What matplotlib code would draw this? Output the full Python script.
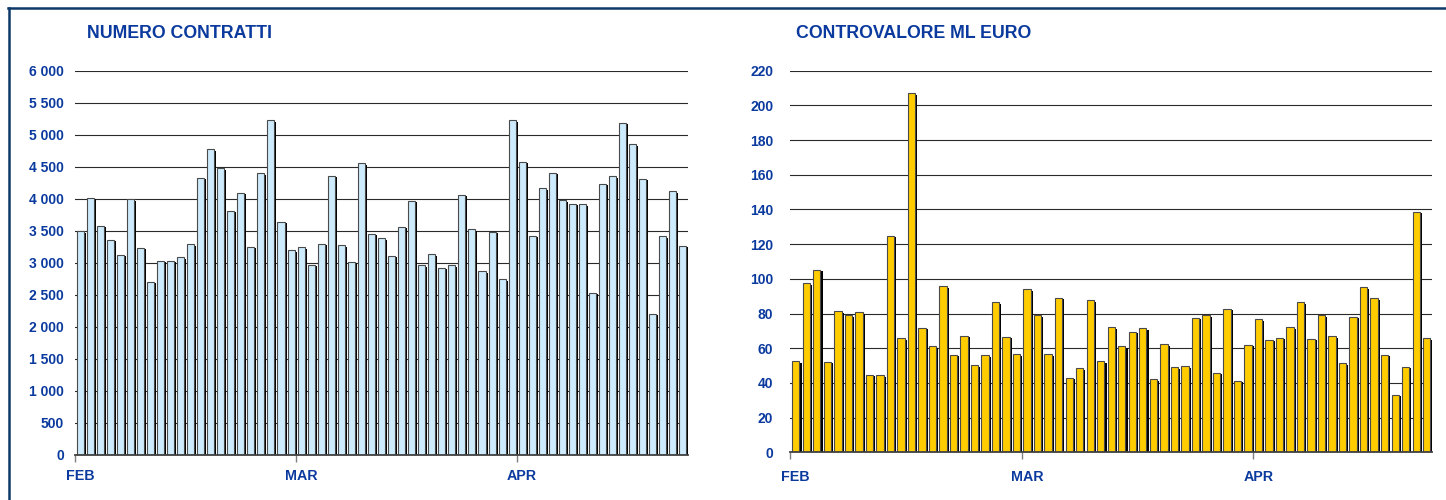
import matplotlib.pyplot as plt
import numpy as np
from matplotlib.lines import Line2D

plt.rcParams['font.family'] = ['Liberation Sans', 'DejaVu Sans']

# valori giornalieri feb-apr (22 + 22 + 17 sedute)
contratti = [3500, 4020, 3580, 3360, 3130, 4000, 3235, 2710, 3035, 3035, 3090,
             3290, 4330, 4780, 4480, 3820, 4095, 3255, 4405, 5230, 3645, 3200,
             3245, 2970, 3300, 4360, 3275, 3020, 4560, 3455, 3390, 3115, 3565,
             3975, 2965, 3140, 2925, 2965, 4070, 3530, 2870, 3490, 2750, 5230,
             4580, 3425, 4165, 4410, 3980, 3925, 3915, 2535, 4240, 4355, 5190,
             4855, 4320, 2205, 3420, 4125, 3270]

controvalore = [52.6, 97.5, 105.2, 52.2, 81.2, 78.9, 80.6, 44.7, 44.3, 124.8, 65.8,
                206.9, 71.8, 61.0, 95.6, 56.2, 67.2, 50.3, 55.9, 86.4, 66.6, 56.6,
                93.9, 78.9, 56.6, 89.1, 43.0, 48.6, 87.7, 52.4, 72.0, 61.2, 69.5,
                71.4, 42.0, 62.2, 48.9, 49.5, 77.5, 78.9, 45.9, 82.9, 41.3, 62.0,
                76.6, 64.9, 66.0, 72.0, 86.4, 65.5, 78.9, 66.8, 51.2, 78.1, 95.2,
                88.9, 56.2, 33.2, 49.3, 138.8, 65.8]

mesi = ['FEB', 'MAR', 'APR']
inizio_mese = [0, 22, 44]

blu = '#0b3a9e'
W, H = 1446, 500


def draw_panel(ax, vals, ymax, step, fill, title, title_x, pad, lab_off):
    x = np.arange(len(vals))
    vals = np.array(vals)
    sh = ymax * 0.004
    ax.bar(x + 0.2, vals - sh, width=0.7, color='black', zorder=2, linewidth=0)
    ax.bar(x, vals, width=0.7, color=fill, edgecolor='#4a4a4a', linewidth=0.8, zorder=3)
    ax.set_xlim(-0.5, len(vals) - 0.5)
    ax.set_ylim(0, ymax)
    yt = np.arange(0, ymax + 1, step)
    ax.set_yticks(yt)
    ax.set_yticklabels([f"{int(v):,}".replace(',', ' ') for v in yt])
    ax.tick_params(axis='y', length=0, pad=pad, labelcolor=blu, labelsize=10)
    for lab in ax.get_yticklabels():
        lab.set_fontweight('bold')
    ax.yaxis.grid(True, color='#2a2a2a', linewidth=0.8, zorder=0)
    ax.set_axisbelow(True)
    ax.set_xticks([m - 0.5 for m in inizio_mese])
    ax.set_xticklabels([])
    ax.tick_params(axis='x', length=5, color='#808080', width=1)
    for s in ['top', 'right', 'left']:
        ax.spines[s].set_visible(False)
    ax.spines['bottom'].set_color('#404040')
    ax.spines['bottom'].set_linewidth(1.3)
    ax.spines['bottom'].set_zorder(4)
    for m, lab in zip(inizio_mese, mesi):
        ax.annotate(lab, xy=(m, 0), xycoords=('data', 'axes fraction'),
                    xytext=(0, lab_off), textcoords='offset points', ha='center', va='top',
                    fontsize=10.3, fontweight='bold', color=blu)
    ax.figure.text(title_x / W, 1 - 33 / H, title, fontsize=12.8, fontweight='bold',
                   color=blu, ha='left', va='center')


fig = plt.figure(figsize=(W / 100, H / 100), dpi=100)

ax1 = fig.add_axes([75 / W, 1 - 455 / H, (688 - 75) / W, (455 - 71) / H])
draw_panel(ax1, contratti, 6000, 500, '#cdebfd', 'NUMERO CONTRATTI', 87, 8, -10)

ax2 = fig.add_axes([790.5 / W, 1 - 452.3 / H, (1432 - 790.5) / W, (452.3 - 70.7) / H])
draw_panel(ax2, controvalore, 220, 20, '#ffcc00', 'CONTROVALORE ML EURO', 796, 12.5, -12.5)

# cornice
fig.add_artist(Line2D([8 / W, 1], [1 - 7.5 / H, 1 - 7.5 / H], color='#0d3868', linewidth=1.8))
fig.add_artist(Line2D([8.5 / W, 8.5 / W], [0, 1 - 7.5 / H], color='#0d3868', linewidth=1.8))

fig.savefig('out.png', dpi=100)
